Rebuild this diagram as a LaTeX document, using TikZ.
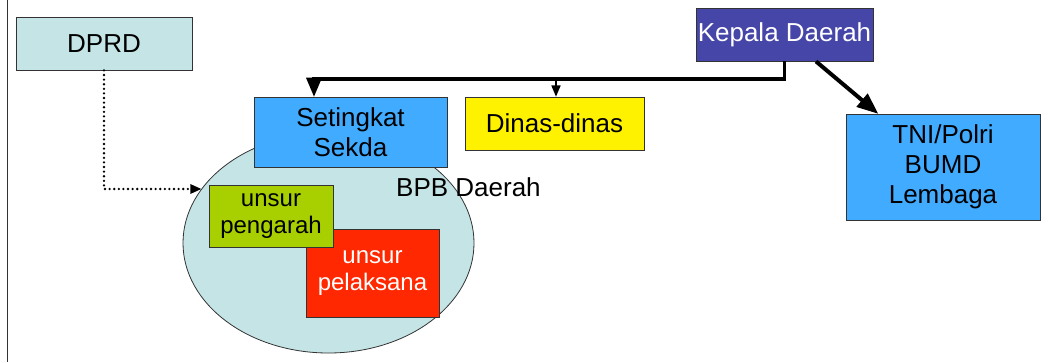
\documentclass[tikz,border=0pt]{standalone}
\usepackage{fontspec}
\setmainfont{Liberation Sans}
\usepackage{tikz}
\usetikzlibrary{arrows,shapes.geometric}
\definecolor{dprdcol}{HTML}{C4E4E6}
\definecolor{bluecol}{HTML}{40ABFF}
\definecolor{kepcol}{HTML}{4646A8}
\definecolor{greencol}{HTML}{A8D000}
\definecolor{redcol}{HTML}{FF2800}
\tikzstyle{unit} = [rectangle, draw=black!80, line width=0.8pt, inner sep=0pt, align=center, font=\fontsize{26}{30}\selectfont]
\tikzstyle{small} = [unit, font=\fontsize{24}{27}\selectfont]
\tikzstyle{mainline} = [line width=3.5pt, -triangle 45]
\tikzstyle{branch} = [line width=1.6pt, -triangle 45]

\begin{document}
\begin{tikzpicture}[x=1pt,y=-1pt]
  \useasboundingbox (0,0) rectangle (1050,362);
  \draw[black!80,line width=0.8pt] (7.5,0) -- (7.5,362); % frame
  \node[ellipse, draw=black!80, line width=0.8pt, fill=dprdcol, minimum width=291pt, minimum height=220pt] (bpb) at (328.5,243) {};
  \node[unit, fill=dprdcol, minimum width=176pt, minimum height=53pt] (dprd) at (104,43.5) {DPRD};
  \node[unit, fill=bluecol, minimum width=193pt, minimum height=70pt] (sekda) at (350.5,132) {Setingkat\\Sekda};
  \node[unit, fill=yellow, minimum width=179pt, minimum height=53pt] (dinas) at (554.5,123.5) {Dinas-dinas};
  \node[unit, fill=kepcol, text=white, minimum width=177pt, minimum height=53pt] (kepala) at (784.5,34.5) {Kepala Daerah};
  \node[unit, fill=bluecol, minimum width=194pt, minimum height=106pt] (tni) at (943,167) {TNI/Polri\\BUMD\\Lembaga};
  \node[small, fill=redcol, text=white, minimum width=133pt, minimum height=88pt] (pelaksana) at (372.5,273) {unsur\\pelaksana};
  \node[small, fill=greencol, minimum width=124pt, minimum height=62pt] (pengarah) at (271,216) {unsur\\pengarah};
  \node[font=\fontsize{26}{30}\selectfont, anchor=west, inner sep=0pt] (bpbtext) at (396,187) {BPB Daerah};
  \coordinate (jl) at (314,79);
  \coordinate (jd) at (556,79);
  \draw[mainline] (kepala.south) |- (jl) -- (jl |- sekda.north);
  \draw[branch] (jd) -- (jd |- dinas.north);
  \draw[line width=4pt, -triangle 45] ([xshift=31.5pt]kepala.south) -- ([xshift=-65pt]tni.north);
  \draw[line width=2.6pt, line cap=round, dash pattern=on 0pt off 4.6pt] (dprd.south) |- ([xshift=-8pt]bpb.157);
  \fill ([xshift=-11pt,yshift=5pt]bpb.157) -- (bpb.157) -- ([xshift=-11pt,yshift=-5pt]bpb.157) -- cycle;
\end{tikzpicture}
\end{document}
